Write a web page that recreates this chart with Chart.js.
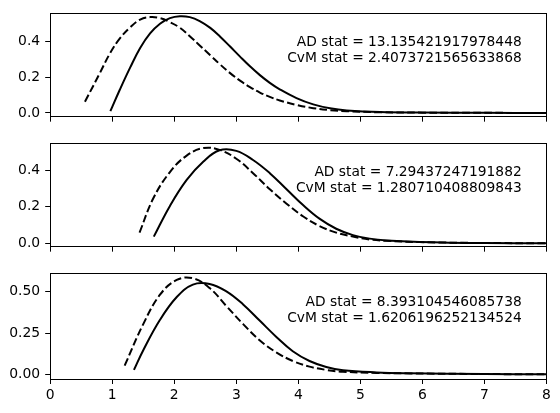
<!DOCTYPE html>
<html>
<head>
<meta charset="utf-8">
<script src="https://cdn.jsdelivr.net/npm/chart.js@4.4.0/dist/chart.umd.min.js"></script>
<style>
  html, body { margin:0; padding:0; background:#fff; }
  .panel { position:absolute; left:0; width:560px; }
</style>
</head>
<body>
<div class="panel" style="top:0;height:130px"><canvas id="c1"></canvas></div>
<div class="panel" style="top:130px;height:130px"><canvas id="c2"></canvas></div>
<div class="panel" style="top:260px;height:153px"><canvas id="c3"></canvas></div>
<script>
// x axis shared by the three panels
const xTicks = [0, 1, 2, 3, 4, 5, 6, 7, 8];

// panel 1
const p1SolidX = [0.97, 1.12, 1.29, 1.45, 1.61, 1.77, 1.93, 2.09, 2.25, 2.41, 2.58, 2.74, 2.90, 3.06, 3.22, 3.38, 3.54, 3.70, 3.97, 4.24, 4.51, 4.78, 5.32, 6.0, 7.0, 8.0];
const p1SolidY = [0.01, 0.128, 0.254, 0.362, 0.443, 0.497, 0.528, 0.539, 0.534, 0.512, 0.474, 0.425, 0.37, 0.314, 0.26, 0.211, 0.168, 0.132, 0.083, 0.048, 0.026, 0.014, 0.005, 0.003, 0.001, 0.0];
const p1DashX = [0.56, 0.80, 0.96, 1.12, 1.29, 1.45, 1.61, 1.77, 1.93, 2.09, 2.25, 2.41, 2.58, 2.74, 2.90, 3.06, 3.22, 3.38, 3.54, 3.70, 3.97, 4.24, 4.51, 4.78, 5.32, 6.0, 7.0, 8.0];
const p1DashY = [0.063, 0.222, 0.33, 0.414, 0.477, 0.52, 0.534, 0.528, 0.506, 0.475, 0.428, 0.376, 0.322, 0.27, 0.222, 0.18, 0.144, 0.114, 0.09, 0.07, 0.045, 0.027, 0.016, 0.010, 0.004, 0.002, 0.001, 0.0];
const p1YTicks = [0, 0.2, 0.4];
const p1Stats = ['AD stat = 13.135421917978448', 'CvM stat = 2.4073721565633868'];

// panel 2
const p2SolidX = [1.67, 1.93, 2.20, 2.47, 2.73, 3.00, 3.27, 3.54, 3.81, 4.08, 4.34, 4.61, 4.88, 5.15, 5.42, 5.95, 7.0, 8.0];
const p2SolidY = [0.037, 0.205, 0.347, 0.448, 0.509, 0.506, 0.456, 0.384, 0.296, 0.208, 0.135, 0.08, 0.045, 0.026, 0.016, 0.008, 0.002, 0.001];
const p2DashX = [1.44, 1.66, 1.93, 2.20, 2.47, 2.73, 3.00, 3.27, 3.54, 3.81, 4.08, 4.34, 4.61, 4.88, 5.15, 5.42, 5.95, 7.0, 8.0];
const p2DashY = [0.059, 0.245, 0.39, 0.48, 0.521, 0.511, 0.463, 0.384, 0.296, 0.217, 0.147, 0.095, 0.059, 0.037, 0.021, 0.014, 0.007, 0.002, 0.001];
const p2YTicks = [0, 0.2, 0.4];
const p2Stats = ['AD stat = 7.29437247191882', 'CvM stat = 1.280710408809843'];

// panel 3
const p3SolidX = [1.35, 1.50, 1.77, 2.04, 2.30, 2.57, 2.84, 3.11, 3.38, 3.65, 3.91, 4.18, 4.45, 4.72, 5.26, 5.8, 7.0, 8.0];
const p3SolidY = [0.027, 0.146, 0.33, 0.468, 0.543, 0.547, 0.502, 0.423, 0.324, 0.225, 0.14, 0.081, 0.045, 0.025, 0.012, 0.007, 0.002, 0.001];
const p3DashX = [1.20, 1.50, 1.77, 2.04, 2.30, 2.57, 2.84, 3.11, 3.38, 3.65, 3.91, 4.18, 4.45, 4.72, 5.26, 5.8, 7.0, 8.0];
const p3DashY = [0.053, 0.304, 0.482, 0.571, 0.581, 0.522, 0.413, 0.304, 0.205, 0.132, 0.081, 0.047, 0.027, 0.016, 0.009, 0.006, 0.002, 0.001];
const p3YTicks = [0, 0.25, 0.5];
const p3Stats = ['AD stat = 8.393104546085738', 'CvM stat = 1.6206196252134524'];

const FONT = '"DejaVu Sans", sans-serif';
const zip = (xs, ys) => xs.map((x, i) => ({x, y: ys[i]}));

// frame on all four sides + the two stat lines
const framePlugin = {
  id: 'frame',
  afterDraw(chart, args, opts){
    const a = chart.chartArea, ctx = chart.ctx;
    ctx.save();
    ctx.strokeStyle = '#000';
    ctx.lineWidth = 1;
    ctx.strokeRect(Math.round(a.left) + 0.5, Math.round(a.top) + 0.5,
                   Math.round(a.right - a.left), Math.round(a.bottom - a.top));
    ctx.fillStyle = '#000';
    ctx.font = '13.8px ' + FONT;
    ctx.textAlign = 'right';
    ctx.textBaseline = 'middle';
    const tx = a.left + 0.95 * (a.right - a.left);
    const ty = a.bottom - 0.645 * (a.bottom - a.top);
    ctx.fillText(opts.lines[0], tx, ty - 8);
    ctx.fillText(opts.lines[1], tx, ty + 8);
    ctx.restore();
  }
};

function makePanel(id, p){
  new Chart(document.getElementById(id), {
    type: 'line',
    data: {
      datasets: [
        { data: zip(p.sx, p.sy), borderColor: '#000', borderWidth: 2, pointRadius: 0,
          tension: 0.4, fill: false },
        { data: zip(p.dx, p.dy), borderColor: '#000', borderWidth: 2, pointRadius: 0,
          borderDash: [7.7, 3.3], tension: 0.4, fill: false }
      ]
    },
    options: {
      responsive: true,
      maintainAspectRatio: false,
      animation: false,
      layout: { padding: { top: p.top, right: 13.5, left: 0, bottom: 0 } },
      plugins: { legend: { display: false }, tooltip: { enabled: false }, frame: { lines: p.stats } },
      scales: {
        x: {
          type: 'linear', min: 0, max: 8,
          afterBuildTicks: (s) => { s.ticks = xTicks.map(v => ({value: v})); },
          afterFit: (s) => { s.height = p.xh; },
          grid: { drawOnChartArea: false, drawTicks: true, tickLength: 5, color: '#000', lineWidth: 1 },
          border: { display: false },
          ticks: { display: p.showX, color: '#000', padding: 3, maxRotation: 0,
                   font: { family: FONT, size: 13.9 }, callback: (v) => String(v) }
        },
        y: {
          type: 'linear', min: p.ymin, max: p.ymax,
          afterBuildTicks: (s) => { s.ticks = p.yt.map(v => ({value: v})); },
          afterFit: (s) => { s.width = 50.2; },
          grid: { drawOnChartArea: false, drawTicks: true, tickLength: 5, color: '#000', lineWidth: 1 },
          border: { display: false },
          ticks: { color: '#000', padding: 5, font: { family: FONT, size: 13.9 },
                   callback: (v) => v.toFixed(p.dec) }
        }
      }
    },
    plugins: [framePlugin]
  });
}

makePanel('c1', { sx: p1SolidX, sy: p1SolidY, dx: p1DashX, dy: p1DashY, yt: p1YTicks, stats: p1Stats,
  ymin: -0.0204, ymax: 0.555, dec: 1, top: 10.5, xh: 12.5, showX: false });
makePanel('c2', { sx: p2SolidX, sy: p2SolidY, dx: p2DashX, dy: p2DashY, yt: p2YTicks, stats: p2Stats,
  ymin: -0.018, ymax: 0.547, dec: 1, top: 10.3, xh: 12.3, showX: false });
makePanel('c3', { sx: p3SolidX, sy: p3SolidY, dx: p3DashX, dy: p3DashY, yt: p3YTicks, stats: p3Stats,
  ymin: -0.028, ymax: 0.611, dec: 2, top: 11, xh: 34, showX: true });
</script>
</body>
</html>
